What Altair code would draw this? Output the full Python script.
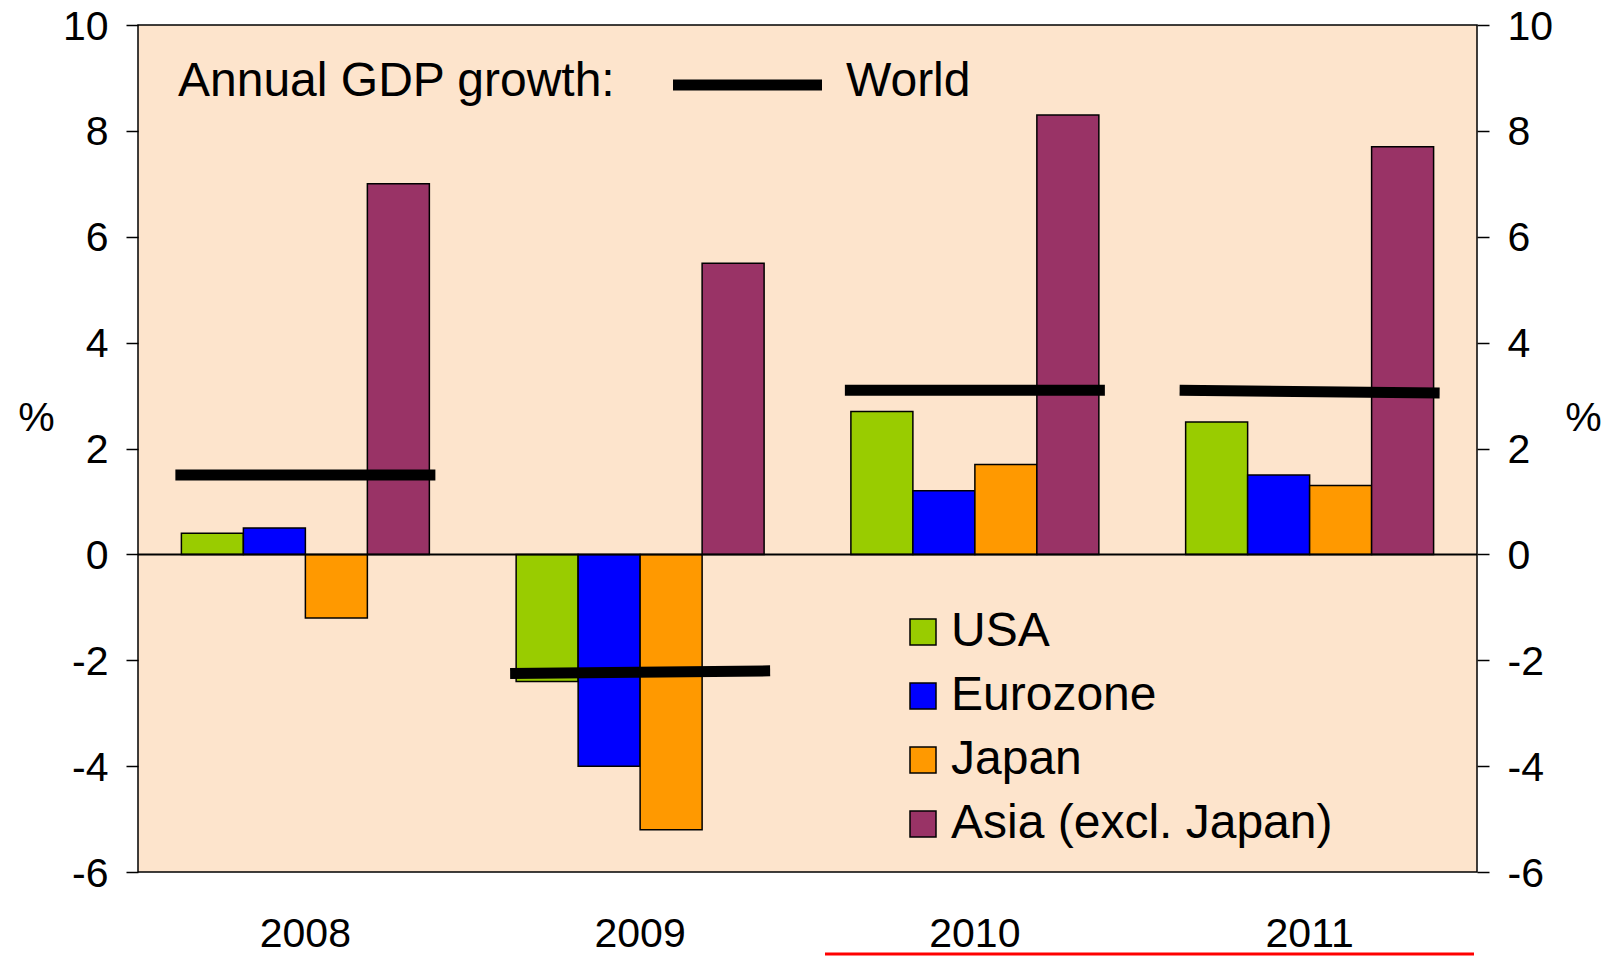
import altair as alt
import pandas as pd

years = ["2008", "2009", "2010", "2011"]
series = ["USA", "Eurozone", "Japan", "Asia (excl. Japan)"]
usa = [0.4, -2.4, 2.7, 2.5]
eurozone = [0.5, -4.0, 1.2, 1.5]
japan = [-1.2, -5.2, 1.7, 1.3]
asia = [7.0, 5.5, 8.3, 7.7]
world_start = [1.5, -2.25, 3.1, 3.1]
world_end = [1.5, -2.2, 3.1, 3.05]
colors = ["#99CC00", "#0000FF", "#FF9900", "#993366"]
y_ticks = [-6, -4, -2, 0, 2, 4, 6, 8, 10]
annotation_title = ["Annual GDP growth:"]
world_label = ["World"]
zero_line = [0]

rows = []
for name, vals in zip(series, [usa, eurozone, japan, asia]):
    for yr, v in zip(years, vals):
        rows.append({"year": yr, "series": name, "value": v})
bars_df = pd.DataFrame(rows)
world_df = pd.DataFrame({"year": years, "start": world_start, "end": world_end})

FONT = "Liberation Sans"
x_scale = alt.Scale(domain=years, paddingInner=0, paddingOuter=0)
y_scale = alt.Scale(domain=[-6, 10], nice=False, zero=False)

common_y_axis = dict(
    values=y_ticks, grid=False, domain=False, ticks=True, tickSize=12,
    tickColor="black", tickWidth=1.5, labelPadding=18, labelFontSize=41,
    labelFont=FONT, labelColor="black", labelExpr="'' + datum.value",
    labelOffset=2, title="%", titleAngle=0,
    titleAlign="center", titleBaseline="middle", titleFontSize=41,
    titleFont=FONT, titleFontWeight="normal", titleColor="black", titleY=393,
)

bars = alt.Chart(bars_df).mark_bar(stroke="black", strokeWidth=1.5).encode(
    x=alt.X("year:N", scale=x_scale, sort=years,
            axis=alt.Axis(orient="bottom", title=None, ticks=False, domain=False,
                          labelAngle=0, labelPadding=42, labelFontSize=41,
                          labelColor="black", labelFont=FONT, grid=False)),
    xOffset=alt.XOffset("series:N", sort=series,
                        scale=alt.Scale(domain=series, paddingInner=0, paddingOuter=0.7)),
    y=alt.Y("value:Q", scale=y_scale,
            axis=alt.Axis(orient="left", titleX=-102, **common_y_axis)),
    color=alt.Color("series:N", sort=series,
                    scale=alt.Scale(domain=series, range=colors),
                    legend=alt.Legend(orient="none", legendX=761, legendY=583, title=None,
                                      symbolType="square", symbolSize=676,
                                      symbolStrokeColor="black", symbolStrokeWidth=1.5,
                                      symbolOpacity=1, labelFontSize=48, labelFont=FONT,
                                      labelColor="black", labelOffset=4, rowPadding=16,
                                      padding=0, labelLimit=600)),
)

zero = alt.Chart(pd.DataFrame({"z": zero_line})).mark_rule(color="black", strokeWidth=2).encode(
    y=alt.Y("z:Q", scale=y_scale,
            axis=alt.Axis(orient="right", titleX=106, **common_y_axis)),
)

world = alt.Chart(world_df).mark_rule(color="black", strokeWidth=11, xOffset=-130, x2Offset=130).encode(
    x=alt.X("year:N", scale=x_scale, sort=years),
    x2="year:N",
    y=alt.Y("start:Q", scale=y_scale, axis=None),
    y2="end:Q",
)

title_txt = alt.Chart(pd.DataFrame({"t": annotation_title})).mark_text(
    font=FONT, fontSize=48, color="black", align="left", baseline="alphabetic"
).encode(text="t:N", x=alt.value(40), y=alt.value(71))

world_txt = alt.Chart(pd.DataFrame({"t": world_label})).mark_text(
    font=FONT, fontSize=48, color="black", align="left", baseline="alphabetic"
).encode(text="t:N", x=alt.value(708), y=alt.value(71))

world_key = alt.Chart(pd.DataFrame({"t": world_label})).mark_rule(color="black", strokeWidth=11).encode(
    x=alt.value(535), x2=alt.value(684), y=alt.value(60)
)

red_line = alt.Chart(pd.DataFrame({"t": world_label})).mark_rule(color="#FF0000", strokeWidth=3).encode(
    x=alt.value(687), x2=alt.value(1336), y=alt.value(929)
)

chart = alt.layer(bars, zero, world, title_txt, world_txt, world_key, red_line).resolve_axis(
    y="independent"
).properties(
    width=1339, height=847,
    autosize=alt.AutoSizeParams(type="none"),
    padding={"left": 130, "top": 17, "right": 127, "bottom": 84},
    background="white",
).configure_view(
    fill="#FDE4CC", stroke="black", strokeWidth=1.5
)

chart.save("out.html", embed_options={"renderer": "svg", "actions": False})
